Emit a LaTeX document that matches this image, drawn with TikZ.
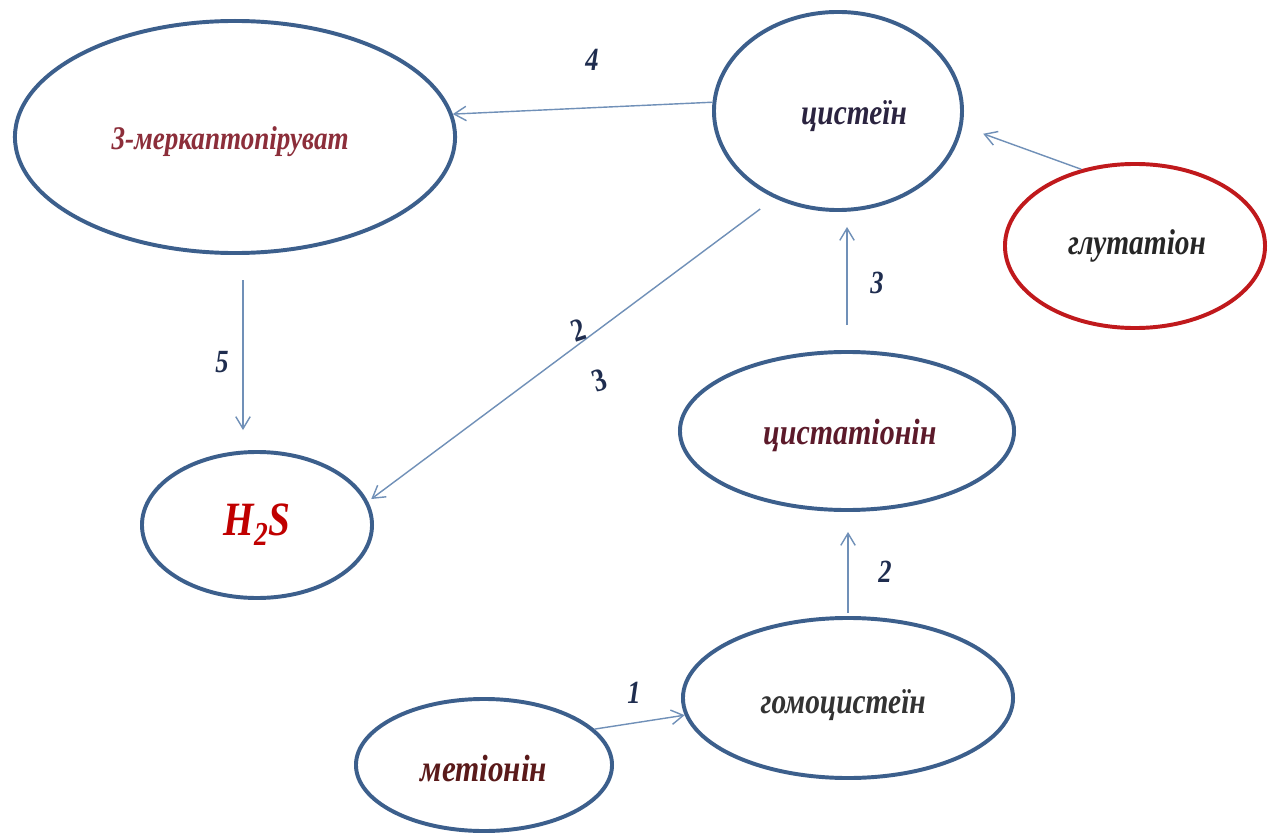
\documentclass[tikz,border=0pt]{standalone}
\usepackage{fontspec}
\usetikzlibrary{shapes.geometric,arrows.meta,calc}
\newfontfamily\labfont[FakeStretch=0.82]{Liberation Serif}
\definecolor{ellblue}{HTML}{3C5F8C}
\definecolor{ellred}{HTML}{C0191C}
\definecolor{arrcol}{HTML}{7090B8}
\definecolor{tmerc}{HTML}{8C2E3A}
\definecolor{tcys}{HTML}{2B2440}
\definecolor{tglut}{HTML}{262626}
\definecolor{th2s}{HTML}{C00000}
\definecolor{tcysta}{HTML}{5C1A2A}
\definecolor{thomo}{HTML}{333333}
\definecolor{tmet}{HTML}{5A1A1A}
\definecolor{tnum}{HTML}{1F2D4F}
\tikzset{
  oval/.style={ellipse, draw=ellblue, line width=2.8pt, inner sep=0pt},
  redoval/.style={oval, draw=ellred},
  txt/.style={inner sep=0pt, font=\labfont\bfseries\itshape\fontsize{#1}{#1}\selectfont},
  arr/.style={draw=arrcol, line width=1pt, -{Straight Barb[length=0.3cm,width=0.36cm]}},
  num/.style={text=tnum, font=\labfont\bfseries\itshape\fontsize{23}{23}\selectfont, inner sep=0pt},
  numup/.style={text=tnum, font=\labfont\bfseries\fontsize{23}{23}\selectfont, inner sep=0pt, rotate=18}
}
\begin{document}
\begin{tikzpicture}[x=0.025cm,y=-0.025cm]
\useasboundingbox[fill=white] (0,0) rectangle (1270,834);
\node[oval, minimum width=11cm, minimum height=5.8cm,
  label={[txt=23.5, text=tmerc, xshift=-0.12cm, yshift=-0.12cm]center:3-меркаптопіруват}] (merc) at (235,137) {};
\node[oval, minimum width=6.2cm, minimum height=4.95cm,
  label={[txt=25.5, text=tcys, xshift=0.4cm, yshift=-0.12cm]center:цистеїн}] (cys) at (838,111) {};
\node[redoval, minimum width=6.5cm, minimum height=4.1cm,
  label={[txt=25.5, text=tglut, xshift=0.05cm]center:глутатіон}] (glut) at (1135,246) {};
\node[oval, minimum width=5.75cm, minimum height=3.65cm,
  label={[txt=34, text=th2s]center:H\textsubscript{2}S}] (h2s) at (257,525) {};
\node[oval, minimum width=8.35cm, minimum height=3.95cm,
  label={[txt=26, text=tcysta, xshift=0.07cm, yshift=-0.12cm]center:цистатіонін}] (cysta) at (847,431) {};
\node[oval, minimum width=8.25cm, minimum height=4.0cm,
  label={[txt=25.5, text=thomo, xshift=-0.12cm, yshift=-0.17cm]center:гомоцистеїн}] (homo) at (848,698) {};
\node[oval, minimum width=6.4cm, minimum height=3.3cm,
  label={[txt=27, text=tmet, yshift=-0.08cm]center:метіонін}] (met) at (484,765) {};

\draw[arr] (cys.176) -- (merc.6);
\draw[arr, shorten >=0.55cm] (glut.125) -- (cys.-7);
\draw[arr, shorten <=0.625cm, shorten >=0.375cm] (cysta.north) -- (cysta.north |- cys.south);
\draw[arr, shorten <=0.45cm, shorten >=0.1cm] (cys.234) -- (h2s.12);
\draw[arr, shorten <=0.625cm, shorten >=0.5cm] ([xshift=0.2cm]merc.south) -- ([xshift=0.2cm]merc.south |- h2s.north);
\draw[arr, shorten <=0.075cm, shorten >=0.5cm] (homo.north) -- (homo.north |- cysta.south);
\draw[arr] (met.18) -- (homo.186);

\node[num] (n4) at (592,60) {4};
\node[num] (n3a) at (877,283) {3};
\node[num] (n5) at (222,362) {5};
\node[num] (n2a) at (885,572) {2};
\node[num] (n1) at (634,693) {1};
\node[numup] (n2b) at (578,330) {2};
\node[numup] (n3b) at (600,380) {3};
\end{tikzpicture}
\end{document}
